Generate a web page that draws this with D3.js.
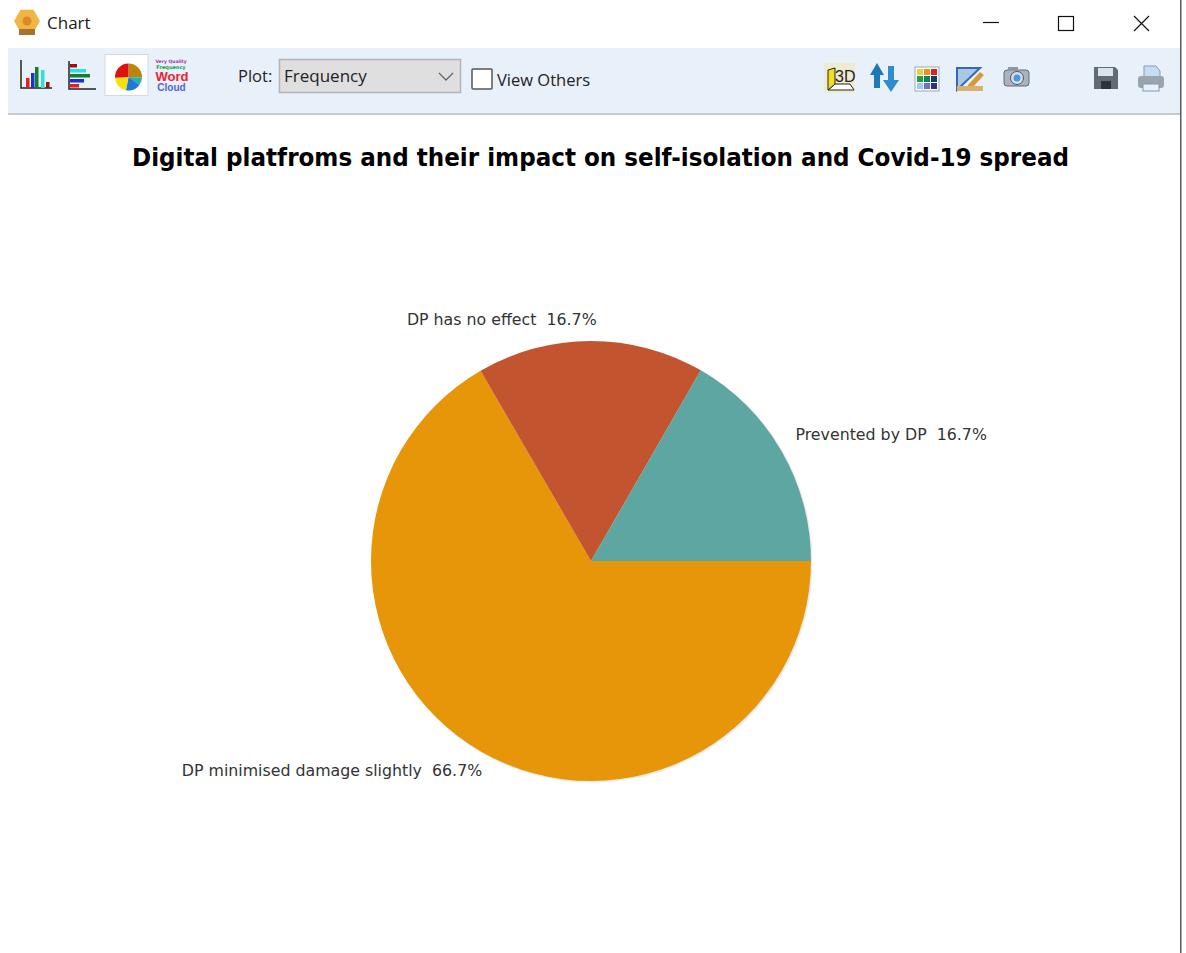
<!DOCTYPE html>
<html>
<head>
<meta charset="utf-8">
<title>Chart</title>
<script src="https://cdn.jsdelivr.net/npm/d3@7/dist/d3.min.js"></script>
<style>
  html, body { margin: 0; padding: 0; background: #fff; overflow: hidden; }
  svg { display: block; }
  text { font-family: "DejaVu Sans", sans-serif; white-space: pre; }
</style>
</head>
<body>
<svg id="chart" width="1186" height="953"></svg>
<script>
// Chart content
const chartTitle = "Digital platfroms and their impact on self-isolation and Covid-19 spread";
const categories = ["DP minimised damage slightly", "DP has no effect", "Prevented by DP"];
const shares = [66.7, 16.7, 16.7];
const sliceColors = ["#E69608", "#C35430", "#5EA6A1"];

const svg = d3.select("#chart");
const chromeFont = "'Open Sans', 'Noto Sans', sans-serif";

// Window frame and title bar
svg.append("rect").attr("x", 1180).attr("y", 0).attr("width", 1.5).attr("height", 953).attr("fill", "#555b61");

const logo = svg.append("g").attr("transform", "translate(27,21)");
logo.append("path")
  .attr("d", d3.line()(d3.range(6).map(i => [13 * Math.cos(i * Math.PI / 3), 13 * Math.sin(i * Math.PI / 3)])) + "Z")
  .attr("fill", "#F2B544");
logo.append("circle").attr("r", 4.5).attr("fill", "#D98A2B");
logo.append("rect").attr("x", -8).attr("y", 8).attr("width", 16).attr("height", 6).attr("fill", "#A5752E");

svg.append("text").attr("x", 47).attr("y", 29).attr("font-size", 17)
  .style("font-family", chromeFont).attr("fill", "#1a1a1a").text("Chart");

const winIcons = svg.append("g").attr("fill", "none").attr("stroke", "#111").attr("stroke-width", 1.2);
winIcons.append("line").attr("x1", 983).attr("x2", 999).attr("y1", 22.5).attr("y2", 22.5);
winIcons.append("rect").attr("x", 1058.5).attr("y", 16.5).attr("width", 15).attr("height", 14);
winIcons.append("path").attr("d", "M1134,16L1149,31M1149,16L1134,31");

// Toolbar strip
svg.append("rect").attr("x", 8).attr("y", 48).attr("width", 1172).attr("height", 65).attr("fill", "#E8F0FA");
svg.append("rect").attr("x", 8).attr("y", 113).attr("width", 1172).attr("height", 2).attr("fill", "#C5CBD0");

const bars = svg.append("g");
// Column chart button
bars.append("path").attr("d", "M21,60V88H52").attr("fill", "none").attr("stroke", "#222").attr("stroke-width", 1.5);
[[26, 78, "#e02020"], [31, 73, "#2030d0"], [35, 67, "#108030"], [41, 70, "#30e0e0"], [46, 82, "#a01010"]].forEach(([x, y, c]) =>
  bars.append("rect").attr("x", x).attr("y", y).attr("width", 3.5).attr("height", 88 - y).attr("fill", c));
// Horizontal bar chart button
bars.append("path").attr("d", "M69,61V89H96").attr("fill", "none").attr("stroke", "#222").attr("stroke-width", 1.5);
[[64, 7, "#a01010"], [69, 16, "#30e0e0"], [74, 20, "#108030"], [79, 14, "#2030d0"], [84, 9, "#e02020"]].forEach(([y, w, c]) =>
  bars.append("rect").attr("x", 70).attr("y", y).attr("width", w).attr("height", 3.5).attr("fill", c));

// Active pie chart button
svg.append("rect").attr("x", 105).attr("y", 54.5).attr("width", 43).attr("height", 41)
  .attr("fill", "#fff").attr("stroke", "#d5d9dd");
const miniArc = d3.arc().innerRadius(0).outerRadius(13.5);
const miniPie = d3.pie().sort(null)([26, 9, 18, 21, 26]);
const miniColors = ["#B8860B", "#25B0B0", "#1E78D8", "#F2E010", "#E01010"];
svg.append("g").attr("transform", "translate(128.5,77)").selectAll("path").data(miniPie).join("path")
  .attr("d", miniArc).attr("fill", (d, i) => miniColors[i]);

// Word cloud button
const cloud = svg.append("g").attr("text-anchor", "middle").style("font-weight", "bold");
cloud.append("text").attr("x", 171).attr("y", 63).attr("font-size", 4.5).attr("fill", "#A030A0").text("Very Quality");
cloud.append("text").attr("x", 171).attr("y", 69).attr("font-size", 5).attr("fill", "#10A050").text("Frequency");
cloud.append("text").attr("x", 172).attr("y", 81).attr("font-size", 13).attr("fill", "#F02030")
  .style("font-family", "'Liberation Sans'").text("Word");
cloud.append("text").attr("x", 171.5).attr("y", 91).attr("font-size", 10).attr("fill", "#5560E0")
  .style("font-family", "'Liberation Sans'").text("Cloud");

// Plot selector
svg.append("text").attr("x", 238).attr("y", 82).attr("font-size", 16.5)
  .style("font-family", chromeFont).attr("fill", "#222").text("Plot:");
svg.append("rect").attr("x", 279.5).attr("y", 59.5).attr("width", 181).attr("height", 33)
  .attr("fill", "#DFDFDF").attr("stroke", "#B4B4B4").attr("stroke-width", 1.5);
svg.append("text").attr("x", 284).attr("y", 82).attr("font-size", 17)
  .style("font-family", chromeFont).attr("fill", "#222").text("Frequency");
svg.append("path").attr("d", "M439,73L446,80L453,73").attr("fill", "none").attr("stroke", "#666").attr("stroke-width", 1.3);
svg.append("rect").attr("x", 472).attr("y", 69).attr("width", 20).attr("height", 20).attr("rx", 1)
  .attr("fill", "#fff").attr("stroke", "#555").attr("stroke-width", 1.5);
svg.append("text").attr("x", 497).attr("y", 86).attr("font-size", 16.5)
  .style("font-family", chromeFont).attr("fill", "#222").text("View Others");

// Right-hand toolbar buttons
const tools = svg.append("g");
tools.append("rect").attr("x", 824).attr("y", 63).attr("width", 31).attr("height", 30).attr("fill", "#EFEBD0");
tools.append("path").attr("d", "M828,90L835,84H850L854,90Z").attr("fill", "#fff").attr("stroke", "#222");
tools.append("path").attr("d", "M828,70L835,68V84L828,90Z").attr("fill", "#F0E020").attr("stroke", "#222");
tools.append("text").attr("x", 835).attr("y", 82).attr("font-size", 16).attr("fill", "#222")
  .style("font-family", "'Liberation Sans'").text("3D");
tools.append("path").attr("d", "M877,63L870,75H874V88H880V75H884Z").attr("fill", "#1C78B8");
tools.append("path").attr("d", "M891,92L899,80H894V66H888V80H883Z").attr("fill", "#2E8CCC");

const swatches = ["#E8D040", "#F09020", "#E02020", "#20A040", "#108060", "#104060", "#90D0F0", "#7070C0", "#303080"];
tools.append("rect").attr("x", 915).attr("y", 67).attr("width", 24).attr("height", 24).attr("fill", "#fff").attr("stroke", "#9aa");
tools.selectAll(".swatch").data(swatches).join("rect").attr("class", "swatch")
  .attr("x", (d, i) => 917 + (i % 3) * 7).attr("y", (d, i) => 69 + Math.floor(i / 3) * 7)
  .attr("width", 6).attr("height", 6).attr("fill", d => d);

tools.append("path").attr("d", "M957,68H980L957,90Z").attr("fill", "#A8C8E8").attr("stroke", "#3A68A8").attr("stroke-width", 2);
tools.append("path").attr("d", "M968,85L980,72L984,75L972,88L967,90Z").attr("fill", "#D89838");
tools.append("rect").attr("x", 957).attr("y", 86).attr("width", 26).attr("height", 5).attr("fill", "#D8B070");

tools.append("rect").attr("x", 1004).attr("y", 70).attr("width", 25).attr("height", 16).attr("rx", 3)
  .attr("fill", "#A8B4C0").attr("stroke", "#667");
tools.append("rect").attr("x", 1008).attr("y", 67).attr("width", 10).attr("height", 4).attr("fill", "#8c98a4");
tools.append("circle").attr("cx", 1017).attr("cy", 78).attr("r", 6.5).attr("fill", "#D8DEE4").attr("stroke", "#556");
tools.append("circle").attr("cx", 1017).attr("cy", 78).attr("r", 3.5).attr("fill", "#4A98E0");

tools.append("path").attr("d", "M1094,67H1115L1118,70V89H1094Z").attr("fill", "#636b72");
tools.append("rect").attr("x", 1098).attr("y", 68).attr("width", 15).attr("height", 8).attr("fill", "#D8E4F0");
tools.append("rect").attr("x", 1101).attr("y", 81).attr("width", 10).attr("height", 8).attr("fill", "#2c3238");

tools.append("path").attr("d", "M1144,66H1156L1160,71V78H1144Z").attr("fill", "#C8DCF0").attr("stroke", "#7f9ab5");
tools.append("rect").attr("x", 1138).attr("y", 76).attr("width", 26).attr("height", 12).attr("rx", 3).attr("fill", "#9AA4AE");
tools.append("rect").attr("x", 1143).attr("y", 84).attr("width", 16).attr("height", 7).attr("fill", "#E8F0FA").attr("stroke", "#7f9ab5");

// Chart title
svg.append("text").attr("x", 600.5).attr("y", 166).attr("text-anchor", "middle")
  .attr("font-size", 25).attr("font-weight", "bold").attr("fill", "#000")
  .attr("textLength", 937).attr("lengthAdjust", "spacingAndGlyphs").text(chartTitle);

// Pie, starting at three o'clock and running clockwise
const cx = 591, cy = 561, radius = 220;
const pie = d3.pie().sort(null).startAngle(Math.PI / 2).endAngle(Math.PI * 2.5);
const arc = d3.arc().innerRadius(0).outerRadius(radius);
const arcs = pie(shares);
const plot = svg.append("g").attr("transform", `translate(${cx},${cy})`);

// Faint drop shadow around the rim
plot.append("circle").attr("cx", 1).attr("cy", 1).attr("r", radius + 0.5).attr("fill", "#ECECEC");

plot.selectAll("path.slice").data(arcs).join("path").attr("class", "slice")
  .attr("d", arc).attr("fill", (d, i) => sliceColors[i]);

// Labels sit beside the rim point at the middle of each slice
const rimPoint = d => {
  const mid = (d.startAngle + d.endAngle) / 2;
  return [radius * Math.sin(mid), -radius * Math.cos(mid)];
};
plot.selectAll("text.label").data(arcs).join("text").attr("class", "label")
  .attr("x", d => {
    const [x] = rimPoint(d);
    if (x > 1) return x + 14;
    return x < -1 ? x + 1 : x + 6;
  })
  .attr("y", d => {
    const [, y] = rimPoint(d);
    return y > 0 ? y + 24 : y - 6 - 10 * (-y / radius);
  })
  .attr("text-anchor", d => rimPoint(d)[0] > 1 ? "start" : "end")
  .attr("font-size", 15.8)
  .attr("fill", "#333")
  .text((d, i) => `${categories[i]}  ${shares[i]}%`);
</script>
</body>
</html>
